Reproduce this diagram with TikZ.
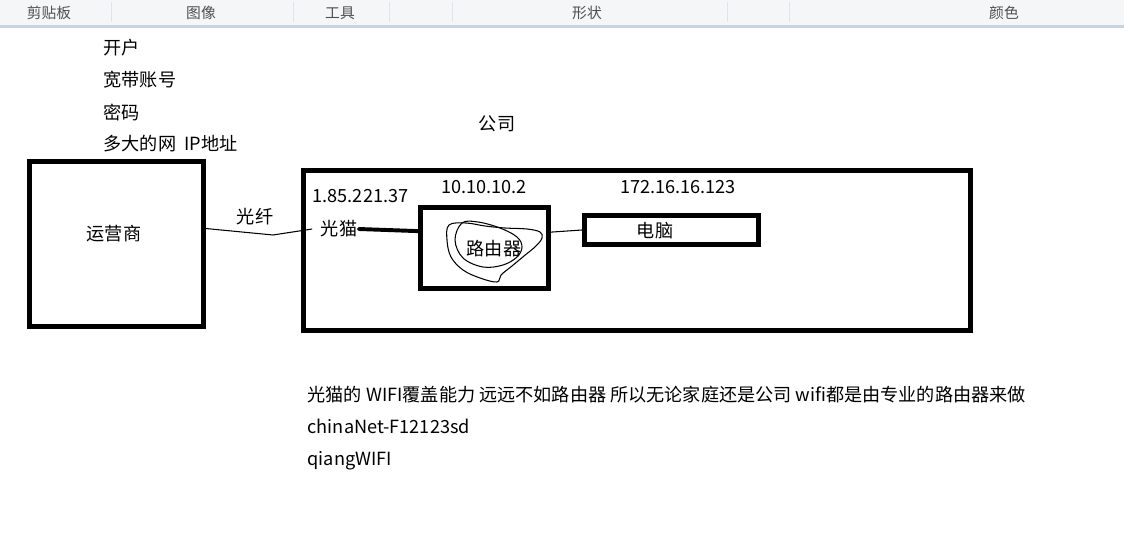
\documentclass[tikz,border=0pt]{standalone}
\usepackage{fontspec}
\setmainfont{Noto Sans CJK SC}
\definecolor{barbg}{RGB}{245,246,248}
\definecolor{barline}{RGB}{201,210,224}
\definecolor{barsep}{RGB}{226,228,232}
\definecolor{bartext}{RGB}{80,80,80}
\begin{document}
\begin{tikzpicture}[x=0.025cm,y=-0.025cm,
  box/.style={draw, rectangle, line width=3.5pt, inner sep=0pt},
  txt/.style={inner sep=1pt, font=\fontsize{12.9}{15}\selectfont},
  tab/.style={inner sep=0pt, text=bartext, font=\fontsize{10.5}{12}\selectfont}]
\useasboundingbox (0,0) rectangle (1124,537);
% toolbar
\fill[barbg] (0,0) rectangle (1124,25);
\fill[barline] (0,25) rectangle (1124,28);
\foreach \sx in {111,293,389,452,727,789}
  \draw[barsep] (\sx,2) -- (\sx,22);
\node[tab] (t1) at (49,13) {剪贴板};
\node[tab] (t2) at (201,13) {图像};
\node[tab] (t3) at (340,13) {工具};
\node[tab] (t4) at (587,13) {形状};
\node[tab] (t5) at (1004,13) {颜色};
% notes
\node[txt, anchor=west] (n1) at (102,48) {开户};
\node[txt, anchor=west] (n2) at (102,80) {宽带账号};
\node[txt, anchor=west] (n3) at (102,112) {密码};
\node[txt, anchor=west] (n4) at (102,144) {多大的网\ \ IP地址};
\node[txt] (co) at (497,124) {公司};
% boxes
\node[box, minimum width=4.35cm, minimum height=4.125cm] (isp) at (116.5,244) {};
\node[txt] (ispt) at (114,234) {运营商};
\node[box, minimum width=16.675cm, minimum height=4cm] (comp) at (637,250.5) {};
\node[box, minimum width=3.2cm, minimum height=2.025cm] (rt) at (484.5,248) {};
\node[txt] (rtt) at (494,249) {路由器};
\node[box, minimum width=4.35cm, minimum height=0.725cm] (pc) at (671.5,230) {};
\node[txt] (pct) at (655,231) {电脑};
\node[txt] (modem) at (339,229) {光猫};
\node[txt] (ip1) at (360.5,196) {1.85.221.37};
\node[txt] (ip2) at (484,187) {10.10.10.2};
\node[txt] (ip3) at (678,187) {172.16.16.123};
\node[txt] (fib) at (255,217) {光纤};
% links
\draw[line width=0.75pt] ([yshift=11pt]isp.east) -- (273,235) -- ([xshift=-5pt]modem.west);
\draw[line width=2.8pt, line cap=round] (modem.east) -- ([yshift=12pt]rt.west);
\draw[line width=0.75pt] ([yshift=11.3pt]rt.east) -- (pc.west);
% scribble round the router
\draw[line width=0.75pt] plot[smooth cycle, tension=0.6] coordinates {(449,225) (447,240) (451,257) (463,270) (480,278) (497,282) (501,275) (512,266) (524,256) (536,246) (542,238) (540,232) (527,229) (505,228) (485,226) (466,223)};
\draw[line width=0.75pt] plot[smooth cycle, tension=0.6] coordinates {(462,223) (455,240) (463,258) (483,267) (503,265) (517,257) (522,247) (517,237) (500,228) (478,222)};
% remarks
\node[txt, anchor=west] (r1) at (306,395) {光猫的 WIFI覆盖能力 远远不如路由器 所以无论家庭还是公司 wifi都是由专业的路由器来做};
\node[txt, anchor=west] (r2) at (306,426) {chinaNet-F12123sd};
\node[txt, anchor=west] (r3) at (306,461) {qiangWIFI};
\end{tikzpicture}
\end{document}
